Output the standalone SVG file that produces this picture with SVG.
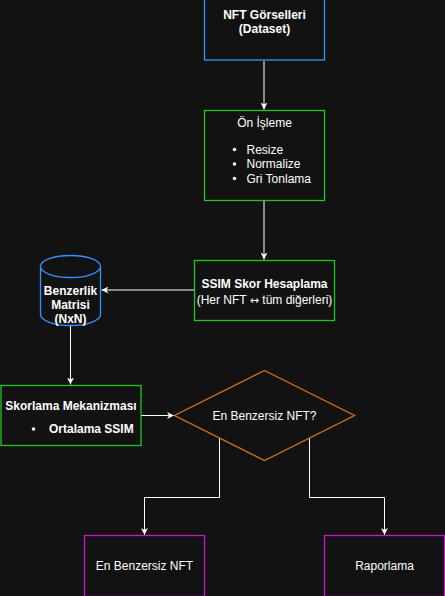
<svg xmlns="http://www.w3.org/2000/svg" width="445" height="596" viewBox="0 0 445 596">
<style>
  text { font-family: "Liberation Sans", Arial, sans-serif; font-size: 12px; fill: #ffffff; }
  .b { font-weight: bold; }
  .sym { font-family: "DejaVu Sans", sans-serif; font-size: 11px; }
  .box { fill: #121212; stroke-width: 1.3; }
  .blue { stroke: #3592ff; }
  .green { stroke: #1fc81f; }
  .orange { stroke: #d9730d; }
  .mag { stroke: #c715c7; }
  .edge { fill: none; stroke: #ffffff; stroke-width: 1; }
</style>
<defs>
  <marker id="arr" viewBox="0 0 10 10" refX="10" refY="5" markerWidth="7" markerHeight="7" markerUnits="userSpaceOnUse" orient="auto">
    <path d="M0,0 L10,5 L0,10 L3,5 z" fill="#ffffff"/>
  </marker>
</defs>
<rect width="445" height="596" fill="#121212"/>

<g id="connectors">
  <path class="edge" d="M264,60.5 V109.5" marker-end="url(#arr)"/>
  <path class="edge" d="M264,200.5 V259.5" marker-end="url(#arr)"/>
  <path class="edge" d="M194,290 H101.5" marker-end="url(#arr)"/>
  <path class="edge" d="M70.5,326 V384.5" marker-end="url(#arr)"/>
  <path class="edge" d="M141,415.5 H174" marker-end="url(#arr)"/>
  <path class="edge" d="M219.5,438 V497.5 H144.5 V535" marker-end="url(#arr)"/>
  <path class="edge" d="M309.5,438 V497.5 H384.5 V535" marker-end="url(#arr)"/>
</g>

<g id="nft-gorselleri">
  <rect class="box blue" x="204.5" y="-1" width="120" height="61"/>
  <text class="b" x="264.5" y="19" text-anchor="middle">NFT Görselleri</text>
  <text class="b" x="264.5" y="33" text-anchor="middle">(Dataset)</text>
</g>

<g id="on-isleme">
  <rect class="box green" x="204.5" y="110.5" width="120" height="90"/>
  <text x="264.5" y="127" text-anchor="middle">Ön İşleme</text>
  <circle cx="234.5" cy="149.5" r="1.8" fill="#ffffff"/>
  <circle cx="234.5" cy="164" r="1.8" fill="#ffffff"/>
  <circle cx="234.5" cy="178.5" r="1.8" fill="#ffffff"/>
  <text x="246.5" y="153.5">Resize</text>
  <text x="246.5" y="168">Normalize</text>
  <text x="246.5" y="182.5">Gri Tonlama</text>
</g>

<g id="ssim">
  <rect class="box green" x="194.5" y="260.5" width="140" height="60"/>
  <text class="b" x="264.5" y="287.5" text-anchor="middle">SSIM Skor Hesaplama</text>
  <text x="264.5" y="303.5" text-anchor="middle">(Her NFT <tspan class="sym">↔</tspan> tüm diğerleri)</text>
</g>

<g id="benzerlik-matrisi">
  <path class="box blue" d="M40.5,266.5 A30,11 0 0 1 100.5,266.5 V314.5 A30,11 0 0 1 40.5,314.5 Z"/>
  <path class="box blue" fill="none" d="M40.5,266.5 A30,11 0 0 0 100.5,266.5"/>
  <text class="b" x="70.5" y="295" text-anchor="middle">Benzerlik</text>
  <text class="b" x="70.5" y="309" text-anchor="middle">Matrisi</text>
  <text class="b" x="70.5" y="323" text-anchor="middle">(NxN)</text>
</g>

<g id="skorlama">
  <rect class="box green" x="1" y="385.5" width="140" height="60"/>
  <text class="b" x="71" y="410" text-anchor="middle">Skorlama Mekanizması</text>
  <circle cx="33.5" cy="429" r="1.8" fill="#ffffff"/>
  <text class="b" x="49" y="433">Ortalama SSIM</text>
</g>

<g id="karar">
  <polygon class="box orange" points="264.5,370.5 354.5,415.5 264.5,460.5 174.5,415.5"/>
  <text x="264.5" y="419.5" text-anchor="middle">En Benzersiz NFT?</text>
</g>

<g id="en-benzersiz">
  <rect class="box mag" x="84.5" y="535.5" width="120" height="61"/>
  <text x="144.5" y="570" text-anchor="middle">En Benzersiz NFT</text>
</g>

<g id="raporlama">
  <rect class="box mag" x="324.5" y="535.5" width="120" height="61"/>
  <text x="384.5" y="570" text-anchor="middle">Raporlama</text>
</g>
</svg>
